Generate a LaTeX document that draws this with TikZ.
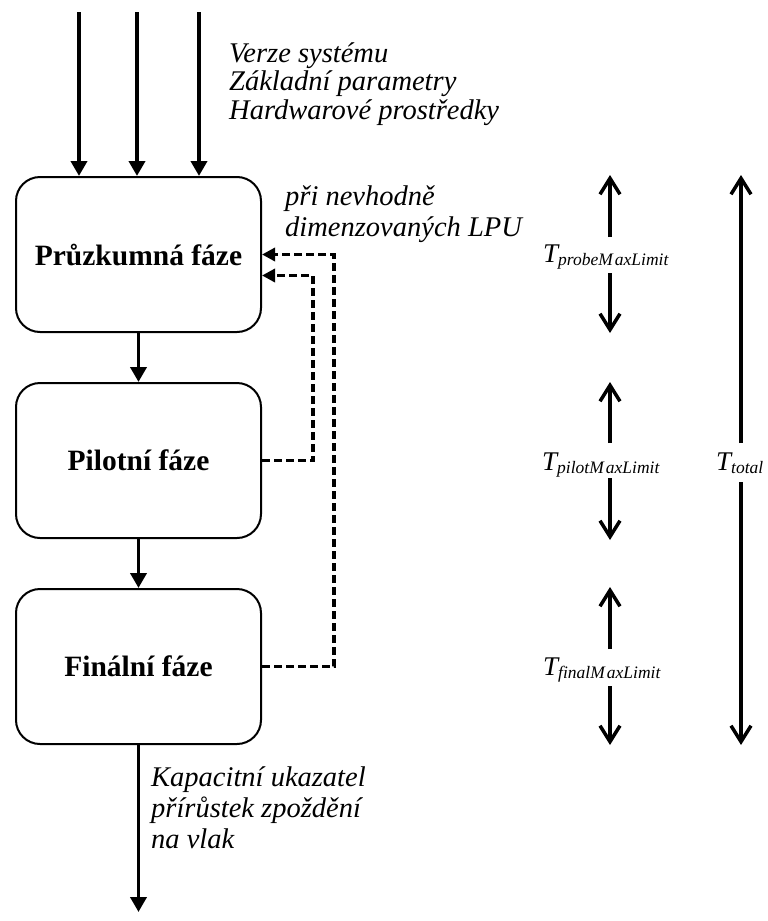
\documentclass[tikz,border=0pt]{standalone}
\usepackage{fontspec}
\setmainfont{Liberation Serif}
\usetikzlibrary{arrows.meta,calc}
\begin{document}
\begin{tikzpicture}[x=1pt,y=-1pt,
  phase/.style={draw,line width=2pt,rounded corners=24pt,minimum width=245pt,
    minimum height=155pt,inner sep=0pt,font=\fontsize{29.5}{31}\selectfont\bfseries},
  flow/.style={line width=3.8pt,-{Triangle[length=15pt,width=16pt]}},
  fb/.style={line width=3.5pt,dash pattern=on 8pt off 4pt,-{Triangle[length=13pt,width=13pt]}},
  span/.style={line width=3.5pt,-{Straight Barb[length=16pt,width=20pt]}},
  note/.style={inner sep=0pt,align=left,anchor=base west,font=\fontsize{28.5}{29}\selectfont\itshape},
  tlab/.style={inner sep=0pt,anchor=base west,font=\fontsize{27}{28}\selectfont\itshape}
]
\newcommand{\tsub}[1]{\raisebox{-3pt}{\fontsize{17.5}{19}\selectfont #1}}
\useasboundingbox (0,0) rectangle (768,921);

% phase boxes
\node[phase] (b1) at (138.5,254.5) {Průzkumná fáze};
\node[phase] (b2) at (138.5,460.5) {Pilotní fáze};
\node[phase] (b3) at (138.5,666.5) {Finální fáze};

% inputs
\coordinate (in1) at (79,12);
\coordinate (in2) at (137,12);
\coordinate (in3) at (199,12);
\draw[flow] (in1) -- (in1 |- b1.north);
\draw[flow] (in2) -- (in2 |- b1.north);
\draw[flow] (in3) -- (in3 |- b1.north);
\node[note,font=\fontsize{28.5}{28.5}\selectfont\itshape] (inputs) at (229,119)
  {Verze systému\\Základní parametry\\Hardwarové prostředky};

% flow between phases
\draw[flow] (b1.south) -- (b2.north);
\draw[flow] (b2.south) -- (b3.north);
\coordinate (out) at (138.5,912);
\draw[flow] (b3.south) -- (out);
\node[note,font=\fontsize{28.5}{31}\selectfont\itshape] (outputs) at (151,848)
  {Kapacitní ukazatel\\přírůstek zpoždění\\na vlak};

% feedback
\draw[fb] (b2.east) -- ++(51,0) |- ($(b1.east)+(0,21)$);
\draw[fb] (b3.east) -- ++(72,0) |- (b1.east);
\node[note,font=\fontsize{28.5}{31}\selectfont\itshape] (fbtext) at (285,236)
  {při nevhodně\\dimenzovaných LPU};

% time limits
\node[tlab] (tprobe) at (543,262) {T\tsub{probeM\kern2pt axLimit}};
\node[tlab] (tpilot) at (542,470) {T\tsub{pilotM\kern2pt axLimit}};
\node[tlab] (tfinal) at (543,675) {T\tsub{finalM\kern2pt axLimit}};
\node[tlab] (ttotal) at (716,470) {T\tsub{total}};

\coordinate (p1a) at (610,237); \coordinate (p1t) at (610,175);
\coordinate (p1b) at (610,273); \coordinate (p1d) at (610,333);
\coordinate (p2a) at (610,443); \coordinate (p2t) at (610,382);
\coordinate (p2b) at (610,478); \coordinate (p2d) at (610,540);
\coordinate (p3a) at (610,649); \coordinate (p3t) at (610,587);
\coordinate (p3b) at (610,686); \coordinate (p3d) at (610,745);
\coordinate (tta) at (741,443); \coordinate (ttt) at (741,175);
\coordinate (ttb) at (741,482); \coordinate (ttd) at (741,745);
\draw[span] (p1a) -- (p1t);
\draw[span] (p1b) -- (p1d);
\draw[span] (p2a) -- (p2t);
\draw[span] (p2b) -- (p2d);
\draw[span] (p3a) -- (p3t);
\draw[span] (p3b) -- (p3d);
\draw[span] (tta) -- (ttt);
\draw[span] (ttb) -- (ttd);
\end{tikzpicture}
\end{document}
